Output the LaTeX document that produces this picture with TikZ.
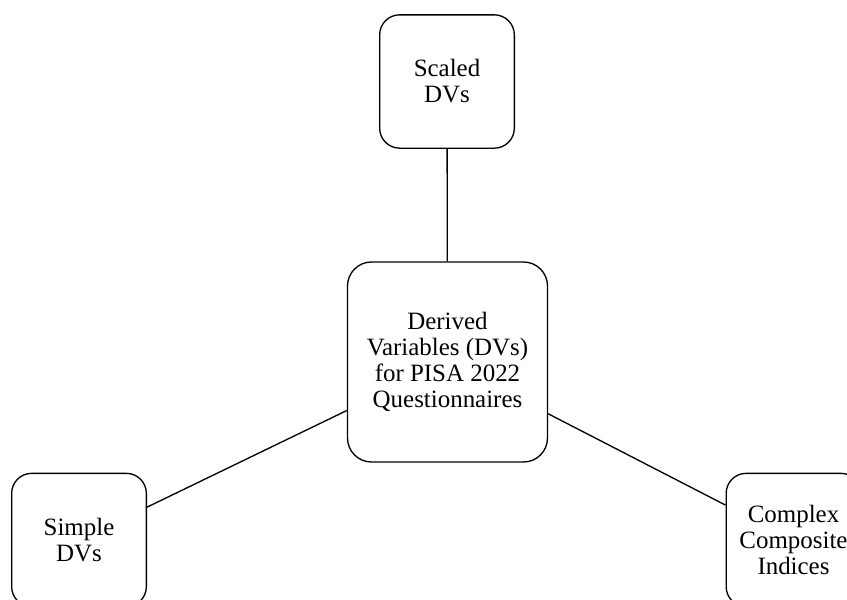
\documentclass[tikz,border=0pt]{standalone}
\usepackage{fontspec}
\setmainfont{Liberation Serif}
\begin{document}
\begin{tikzpicture}[x=0.75pt,y=-0.75pt,
  box/.style={draw,line width=1pt,rounded corners=15pt,align=center,inner sep=0pt,
    minimum width=101pt,minimum height=100pt,font=\fontsize{18.7}{19.5}\selectfont}]
  \useasboundingbox (0,0) rectangle (847,600);
  \clip (0,0) rectangle (847,600);
  % central node and its three branches
  \node[box,minimum width=150pt,minimum height=150pt,rounded corners=18pt] (dv) at (447.5,362)
    {Derived\\Variables (DVs)\\for PISA 2022\\Questionnaires};
  \node[box] (scaled) at (447,81.5) {Scaled\\DVs};
  \node[box] (simple) at (79,540) {Simple\\DVs};
  \node[box] (complex) at (793.5,540) {Complex\\Composite\\Indices};
  \draw[line width=1pt] (dv) -- (scaled);
  \draw[line width=1pt] (dv) -- (simple);
  \draw[line width=1pt] (dv) -- (complex);
\end{tikzpicture}
\end{document}
